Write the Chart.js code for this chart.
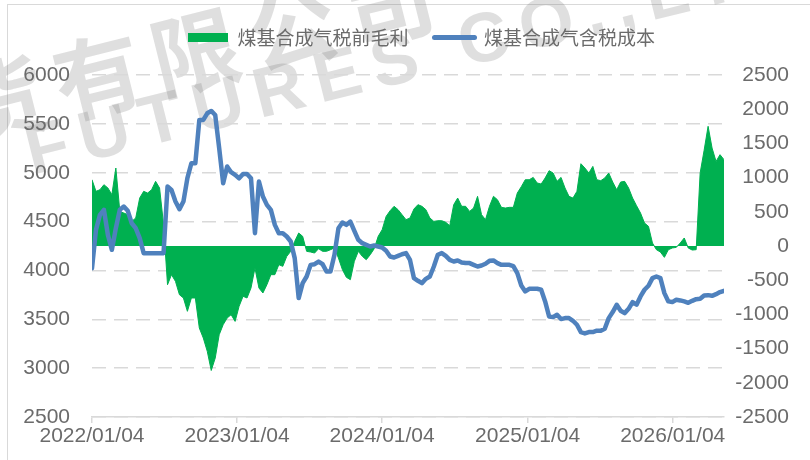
<!DOCTYPE html>
<html>
<head>
<meta charset="utf-8">
<script src="https://cdn.jsdelivr.net/npm/chart.js@4.4.1/dist/chart.umd.min.js"></script>
<style>
  html, body { margin: 0; padding: 0; background: #fff; }
  #wrap { width: 810px; height: 460px; }
</style>
</head>
<body>
<div id="wrap"><canvas id="chart" width="810" height="460"></canvas></div>
<script>
// 数据：每 10 天取一个点，从 2022/01/04 开始
const START_DATE = '2022/01/04';
const STEP_DAYS = 10;
const tickLabels = ['2022/01/04', '2023/01/04', '2024/01/04', '2025/01/04', '2026/01/04'];
const marginLabel = '煤基合成气税前毛利';
const costLabel = '煤基合成气含税成本';

// 税前毛利（右轴）
const margin = [
  969, 799, 823, 896, 848, 750, 1140, 506, 482, 458,
  360, 409, 701, 799, 774, 823, 945, 848, 312, -566,
  -419, -517, -712, -760, -955, -760, -760, -1199, -1345, -1540,
  -1820, -1638, -1297, -1150, -1053, -1004, -1102, -882, -736, -760,
  -614, -322, -614, -687, -566, -419, -419, -273, -297, -151,
  -78, 68, 190, 141, -78, -88, -103, -39, -78, -78,
  -54, -29, -176, -346, -458, -492, -224, -78, -151, -200,
  -127, -39, 141, 238, 433, 516, 580, 531, 458, 385,
  409, 541, 604, 580, 531, 409, 360, 370, 370, 346,
  297, 604, 701, 580, 580, 506, 555, 726, 458, 385,
  580, 726, 677, 565, 555, 565, 565, 774, 867, 969,
  969, 1003, 921, 906, 994, 1101, 1067, 945, 1003, 848,
  726, 701, 799, 1203, 1140, 1067, 1164, 969, 955, 994,
  1067, 935, 823, 935, 945, 848, 701, 589, 482, 336,
  287, 44, -54, -88, -166, -54, -29, -20, 44, 117,
  -29, -59, -54, 1067, 1400, 1750, 1432, 1237, 1335, 1262
];

// 含税成本（左轴）
const cost = [
  4023, 4415, 4569, 4620, 4364, 4211, 4432, 4620, 4654, 4610,
  4483, 4432, 4330, 4177, 4177, 4177, 4177, 4177, 4177, 4858,
  4824, 4705, 4627, 4705, 4944, 5097, 5097, 5540, 5540, 5608,
  5632, 5591, 5250, 4892, 5063, 5005, 4978, 4943, 4988, 4988,
  4943, 4381, 4909, 4756, 4671, 4620, 4466, 4381, 4381, 4347,
  4296, 4126, 3717, 3870, 3938, 4057, 4064, 4091, 4064, 3989,
  3989, 4160, 4432, 4490, 4466, 4500, 4405, 4313, 4279, 4262,
  4245, 4255, 4245, 4235, 4201, 4143, 4132, 4149, 4166, 4177,
  4108, 3921, 3894, 3870, 3914, 3938, 4040, 4160, 4177, 4149,
  4108, 4091, 4102, 4081, 4075, 4075, 4057, 4040, 4050, 4068,
  4098, 4102, 4075, 4057, 4057, 4057, 4044, 3972, 3846, 3785,
  3812, 3812, 3812, 3802, 3683, 3529, 3522, 3546, 3502, 3512,
  3512, 3485, 3444, 3369, 3355, 3369, 3369, 3383, 3383, 3403,
  3512, 3574, 3648, 3587, 3563, 3607, 3676, 3649, 3734, 3802,
  3843, 3921, 3938, 3921, 3768, 3683, 3676, 3700, 3693, 3683,
  3669, 3689, 3706, 3710, 3744, 3747, 3740, 3757, 3778, 3792
];

const GREEN = '#00b050';
const BLUE = '#4f81bd';
const GRID = '#d9d9d9';
const TEXT = '#6b6b6b';
const TICK_FONT = { family: '"Liberation Sans", Arial, sans-serif', size: 21 };
const LEGEND_SHIFT = 27;
const LEGEND_GAP = 18;

const dayOf = s => Math.round((Date.parse(s.replace(/\//g, '-')) - Date.parse(START_DATE.replace(/\//g, '-'))) / 86400000);
const tickDays = tickLabels.map(dayOf);
const toPoints = arr => arr.map((v, i) => ({ x: i * STEP_DAYS, y: v }));

// 背景、外框与水印
const watermark = {
  id: 'watermark',
  beforeDraw(chart) {
    const ctx = chart.ctx;
    ctx.save();
    ctx.fillStyle = '#ffffff';
    ctx.fillRect(0, 0, chart.width, chart.height);

    ctx.strokeStyle = GRID;
    ctx.lineWidth = 1;
    ctx.strokeRect(7.5, 4.5, chart.width + 20, chart.height + 20);

    ctx.fillStyle = 'rgba(110, 110, 110, 0.22)';
    const angle = -14 * Math.PI / 180;

    ctx.save();
    ctx.translate(98, 76);
    ctx.rotate(angle);
    ctx.font = 'bold 88px "Noto Sans CJK SC"';
    ctx.textAlign = 'center';
    ctx.textBaseline = 'middle';
    '期货有限公司'.split('').forEach((ch, i) => ctx.fillText(ch, (i - 2) * 100, 0));
    ctx.restore();

    ctx.save();
    ctx.translate(32, 175);
    ctx.rotate(angle);
    ctx.font = 'bold 70px "Liberation Sans", Arial, sans-serif';
    ctx.letterSpacing = '12px';
    ctx.textBaseline = 'alphabetic';
    ctx.fillText('FUTURES CO.,LTD', 0, 0);
    ctx.restore();

    ctx.restore();
  }
};

// 图例位置微调
const legendTweak = {
  id: 'legendTweak',
  afterInit(chart) {
    const lg = chart.legend;
    const fit = lg.fit;
    lg.fit = function () {
      fit.call(this);
      this.height += LEGEND_GAP;
    };
  },
  afterLayout(chart) {
    chart.legend.left += LEGEND_SHIFT;
    chart.legend.right += LEGEND_SHIFT;
  }
};

new Chart(document.getElementById('chart'), {
  type: 'line',
  data: {
    datasets: [
      {
        label: marginLabel,
        data: toPoints(margin),
        yAxisID: 'y1',
        fill: 'origin',
        backgroundColor: GREEN,
        borderColor: GREEN,
        borderWidth: 1,
        pointRadius: 0,
        tension: 0,
        order: 2
      },
      {
        label: costLabel,
        data: toPoints(cost),
        yAxisID: 'y',
        fill: false,
        borderColor: BLUE,
        backgroundColor: BLUE,
        borderWidth: 4.5,
        borderJoinStyle: 'round',
        borderCapStyle: 'round',
        pointRadius: 0,
        tension: 0,
        order: 1
      }
    ]
  },
  options: {
    responsive: false,
    animation: false,
    layout: { padding: { top: 2, right: 21, bottom: 0, left: 0 } },
    plugins: {
      tooltip: { enabled: false },
      legend: {
        position: 'top',
        align: 'center',
        labels: {
          color: TEXT,
          font: { family: '"Noto Sans CJK SC", sans-serif', size: 19 },
          usePointStyle: true,
          pointStyleWidth: 40,
          boxHeight: 9,
          padding: 26,
          sort: (a, b) => a.datasetIndex - b.datasetIndex,
          generateLabels(chart) {
            return chart.data.datasets.map((ds, i) => ({
              text: ds.label,
              datasetIndex: i,
              fillStyle: ds.backgroundColor,
              strokeStyle: ds.borderColor,
              fontColor: TEXT,
              lineWidth: i === 0 ? 0 : 5,
              lineCap: 'round',
              pointStyle: i === 0 ? 'rect' : 'line',
              hidden: false
            }));
          }
        }
      }
    },
    scales: {
      x: {
        type: 'linear',
        min: 0,
        max: (cost.length - 1) * STEP_DAYS,
        afterBuildTicks(axis) {
          axis.ticks = tickDays.map(v => ({ value: v }));
        },
        afterFit(axis) { axis.height = 43; },
        ticks: {
          autoSkip: false,
          maxRotation: 0,
          color: TEXT,
          font: TICK_FONT,
          padding: 1,
          callback: v => tickLabels[tickDays.indexOf(v)] || ''
        },
        grid: { drawOnChartArea: false, drawTicks: true, tickLength: 6, color: GRID, lineWidth: 1.5 },
        border: { display: true, color: GRID, width: 1.5 }
      },
      y: {
        type: 'linear',
        position: 'left',
        min: 2500,
        max: 6000,
        afterFit(axis) { axis.width = 92; },
        ticks: { stepSize: 500, color: TEXT, font: TICK_FONT, padding: 22, callback: v => String(v) },
        grid: { color: GRID, lineWidth: 1.5, drawTicks: false },
        border: { display: false, dash: [14, 8] }
      },
      y1: {
        type: 'linear',
        position: 'right',
        min: -2500,
        max: 2500,
        afterFit(axis) { axis.width = 65; },
        ticks: { stepSize: 500, color: TEXT, font: TICK_FONT, crossAlign: 'far', callback: v => String(v) },
        grid: { drawOnChartArea: false, drawTicks: false },
        border: { display: false }
      }
    }
  },
  plugins: [watermark, legendTweak]
});
</script>
</body>
</html>
